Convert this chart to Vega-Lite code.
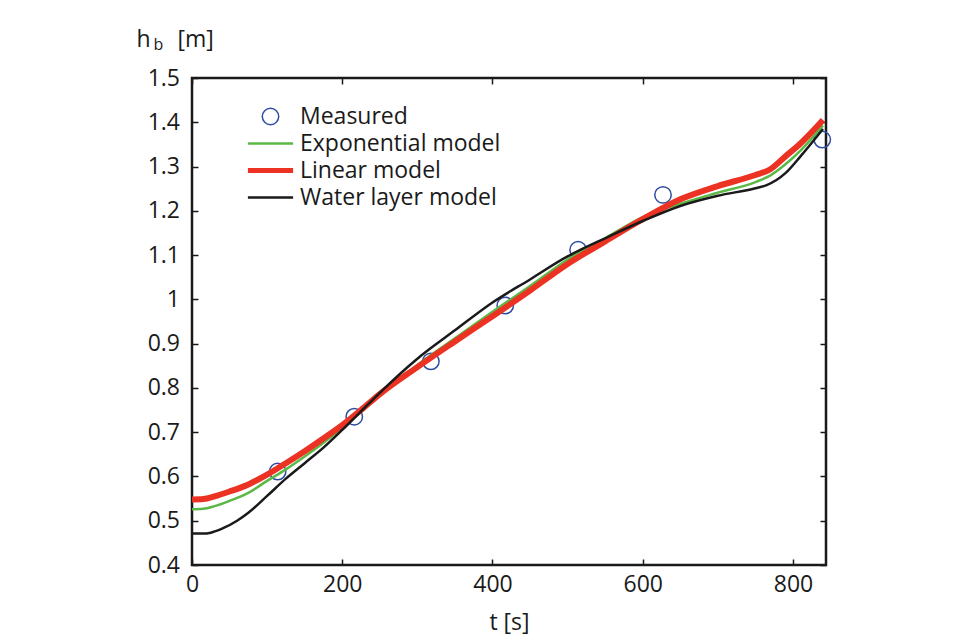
{
  "$schema": "https://vega.github.io/schema/vega-lite/v6.json",
  "width": 634,
  "height": 487,
  "autosize": "none",
  "padding": {"left": 192, "top": 78, "right": 137, "bottom": 74},
  "background": "white",
  "config": {
    "view": {"stroke": "#1a1a1a", "strokeWidth": 2.5},
    "font": "Open Sans",
    "axis": {
      "labelFont": "Open Sans",
      "labelFontSize": 23,
      "labelColor": "#1a1a1a",
      "tickColor": "#1a1a1a",
      "tickWidth": 1.5,
      "tickSize": -6,
      "domain": false,
      "grid": false,
      "titleFont": "Open Sans",
      "titleFontWeight": "normal",
      "titleFontSize": 23,
      "titleColor": "#1a1a1a"
    },
    "legend": {
      "orient": "none", "legendX": 67, "legendY": 27, "title": null,
      "labelFont": "Open Sans", "labelFontSize": 23, "labelColor": "#1a1a1a", "labelLimit": 500,
      "padding": 0, "rowPadding": 3, "labelOffset": 18, "symbolOpacity": 1
    }
  },
  "datasets": {
    "measured": [
      {"series": "Measured", "t": 114, "h": 0.611},
      {"series": "Measured", "t": 216, "h": 0.735},
      {"series": "Measured", "t": 318, "h": 0.86},
      {"series": "Measured", "t": 417, "h": 0.986},
      {"series": "Measured", "t": 514, "h": 1.112},
      {"series": "Measured", "t": 627, "h": 1.236},
      {"series": "Measured", "t": 839, "h": 1.361}
    ],
    "models": [
      {"series": "Exponential model", "t": 0, "h": 0.526},
      {"series": "Exponential model", "t": 15, "h": 0.527},
      {"series": "Exponential model", "t": 30, "h": 0.533},
      {"series": "Exponential model", "t": 50, "h": 0.545},
      {"series": "Exponential model", "t": 75, "h": 0.563},
      {"series": "Exponential model", "t": 100, "h": 0.59},
      {"series": "Exponential model", "t": 125, "h": 0.616},
      {"series": "Exponential model", "t": 150, "h": 0.645},
      {"series": "Exponential model", "t": 175, "h": 0.676},
      {"series": "Exponential model", "t": 200, "h": 0.71},
      {"series": "Exponential model", "t": 225, "h": 0.747},
      {"series": "Exponential model", "t": 250, "h": 0.785},
      {"series": "Exponential model", "t": 300, "h": 0.852},
      {"series": "Exponential model", "t": 350, "h": 0.912},
      {"series": "Exponential model", "t": 400, "h": 0.972},
      {"series": "Exponential model", "t": 450, "h": 1.03},
      {"series": "Exponential model", "t": 500, "h": 1.09},
      {"series": "Exponential model", "t": 550, "h": 1.138},
      {"series": "Exponential model", "t": 600, "h": 1.186},
      {"series": "Exponential model", "t": 650, "h": 1.216},
      {"series": "Exponential model", "t": 700, "h": 1.241},
      {"series": "Exponential model", "t": 750, "h": 1.265},
      {"series": "Exponential model", "t": 770, "h": 1.28},
      {"series": "Exponential model", "t": 790, "h": 1.305},
      {"series": "Exponential model", "t": 810, "h": 1.336},
      {"series": "Exponential model", "t": 840, "h": 1.393},
      {"series": "Linear model", "t": 0, "h": 0.548},
      {"series": "Linear model", "t": 15, "h": 0.549},
      {"series": "Linear model", "t": 30, "h": 0.555},
      {"series": "Linear model", "t": 50, "h": 0.566},
      {"series": "Linear model", "t": 75, "h": 0.582},
      {"series": "Linear model", "t": 100, "h": 0.604},
      {"series": "Linear model", "t": 125, "h": 0.63},
      {"series": "Linear model", "t": 150, "h": 0.657},
      {"series": "Linear model", "t": 175, "h": 0.686},
      {"series": "Linear model", "t": 200, "h": 0.716},
      {"series": "Linear model", "t": 225, "h": 0.75},
      {"series": "Linear model", "t": 250, "h": 0.786},
      {"series": "Linear model", "t": 300, "h": 0.847},
      {"series": "Linear model", "t": 350, "h": 0.905},
      {"series": "Linear model", "t": 400, "h": 0.962},
      {"series": "Linear model", "t": 450, "h": 1.02},
      {"series": "Linear model", "t": 500, "h": 1.08},
      {"series": "Linear model", "t": 550, "h": 1.131},
      {"series": "Linear model", "t": 600, "h": 1.181},
      {"series": "Linear model", "t": 650, "h": 1.226},
      {"series": "Linear model", "t": 700, "h": 1.256},
      {"series": "Linear model", "t": 750, "h": 1.281},
      {"series": "Linear model", "t": 770, "h": 1.294},
      {"series": "Linear model", "t": 790, "h": 1.323},
      {"series": "Linear model", "t": 810, "h": 1.352},
      {"series": "Linear model", "t": 840, "h": 1.405},
      {"series": "Water layer model", "t": 0, "h": 0.471},
      {"series": "Water layer model", "t": 15, "h": 0.471},
      {"series": "Water layer model", "t": 25, "h": 0.473},
      {"series": "Water layer model", "t": 40, "h": 0.482},
      {"series": "Water layer model", "t": 60, "h": 0.5},
      {"series": "Water layer model", "t": 75, "h": 0.518},
      {"series": "Water layer model", "t": 100, "h": 0.556},
      {"series": "Water layer model", "t": 125, "h": 0.595},
      {"series": "Water layer model", "t": 150, "h": 0.63},
      {"series": "Water layer model", "t": 175, "h": 0.665},
      {"series": "Water layer model", "t": 200, "h": 0.705},
      {"series": "Water layer model", "t": 225, "h": 0.747},
      {"series": "Water layer model", "t": 250, "h": 0.789},
      {"series": "Water layer model", "t": 300, "h": 0.866},
      {"series": "Water layer model", "t": 350, "h": 0.93},
      {"series": "Water layer model", "t": 400, "h": 0.993},
      {"series": "Water layer model", "t": 450, "h": 1.045},
      {"series": "Water layer model", "t": 500, "h": 1.097},
      {"series": "Water layer model", "t": 515, "h": 1.11},
      {"series": "Water layer model", "t": 550, "h": 1.138},
      {"series": "Water layer model", "t": 600, "h": 1.177},
      {"series": "Water layer model", "t": 650, "h": 1.211},
      {"series": "Water layer model", "t": 700, "h": 1.234},
      {"series": "Water layer model", "t": 750, "h": 1.251},
      {"series": "Water layer model", "t": 765, "h": 1.258},
      {"series": "Water layer model", "t": 790, "h": 1.285},
      {"series": "Water layer model", "t": 810, "h": 1.323},
      {"series": "Water layer model", "t": 840, "h": 1.385}
    ]
  },
  "layer": [
    {
      "data": {"name": "measured"},
      "mark": {"type": "point", "filled": false, "strokeWidth": 1.5, "opacity": 1},
      "encoding": {
        "x": {
          "field": "t", "type": "quantitative",
          "scale": {"domain": [0, 844], "nice": false, "zero": false},
          "axis": {"orient": "bottom", "values": [0, 200, 400, 600, 800], "title": "t [s]", "labelPadding": 14, "labelFlush": false, "titleY": 64, "titleBaseline": "alphabetic"}
        },
        "y": {
          "field": "h", "type": "quantitative",
          "scale": {"domain": [0.4, 1.5], "nice": false, "zero": false},
          "axis": {"orient": "left", "values": [0.4, 0.5, 0.6, 0.7, 0.8, 0.9, 1.0, 1.1, 1.2, 1.3, 1.4, 1.5], "format": ".1~f", "labelPadding": 18.5, "title": "h", "titleAngle": 0, "titleX": -56, "titleY": -32, "titleAlign": "left", "titleBaseline": "alphabetic"}
        },
        "color": {
          "field": "series", "type": "nominal",
          "scale": {"domain": ["Measured", "Exponential model", "Linear model", "Water layer model"], "range": ["#2f4da0", "#5ab946", "#ec3223", "#1a1a1a"]}
        },
        "shape": {
          "field": "series", "type": "nominal",
          "scale": {"domain": ["Measured", "Exponential model", "Linear model", "Water layer model"], "range": ["circle", "M-2.75,0H2.75", "M-2.75,0H2.75", "M-2.75,0H2.75"]}
        },
        "size": {
          "field": "series", "type": "nominal",
          "scale": {"type": "ordinal", "domain": ["Measured", "Exponential model", "Linear model", "Water layer model"], "range": [270, 270, 270, 270]}
        },
        "strokeWidth": {
          "field": "series", "type": "nominal",
          "scale": {"type": "ordinal", "domain": ["Measured", "Exponential model", "Linear model", "Water layer model"], "range": [1.5, 2.5, 5, 2.5]}
        }
      }
    },
    {
      "data": {"name": "models"},
      "transform": [{"filter": "datum.series === 'Exponential model'"}],
      "mark": {"type": "line", "strokeWidth": 2.5, "interpolate": "monotone"},
      "encoding": {
        "x": {"field": "t", "type": "quantitative", "axis": {"orient": "top", "values": [0, 200, 400, 600, 800], "labels": false, "title": "b", "titleFontSize": 16, "titleX": -39, "titleY": -29, "titleAlign": "left", "titleBaseline": "alphabetic", "titleAngle": 0}},
        "y": {"field": "h", "type": "quantitative", "axis": {"orient": "right", "values": [0.4, 0.5, 0.6, 0.7, 0.8, 0.9, 1.0, 1.1, 1.2, 1.3, 1.4, 1.5], "labels": false, "title": "[m]", "titleAngle": 0, "titleX": -649, "titleY": -32, "titleAlign": "left", "titleBaseline": "alphabetic"}},
        "color": {"field": "series", "type": "nominal"}
      }
    },
    {
      "data": {"name": "models"},
      "transform": [{"filter": "datum.series === 'Linear model'"}],
      "mark": {"type": "line", "strokeWidth": 6, "interpolate": "monotone"},
      "encoding": {
        "x": {"field": "t", "type": "quantitative", "axis": null},
        "y": {"field": "h", "type": "quantitative", "axis": null},
        "color": {"field": "series", "type": "nominal"}
      }
    },
    {
      "data": {"name": "models"},
      "transform": [{"filter": "datum.series === 'Water layer model'"}],
      "mark": {"type": "line", "strokeWidth": 2.5, "interpolate": "monotone"},
      "encoding": {
        "x": {"field": "t", "type": "quantitative", "axis": null},
        "y": {"field": "h", "type": "quantitative", "axis": null},
        "color": {"field": "series", "type": "nominal"}
      }
    }
  ],
  "resolve": {"axis": {"x": "independent", "y": "independent"}}
}
